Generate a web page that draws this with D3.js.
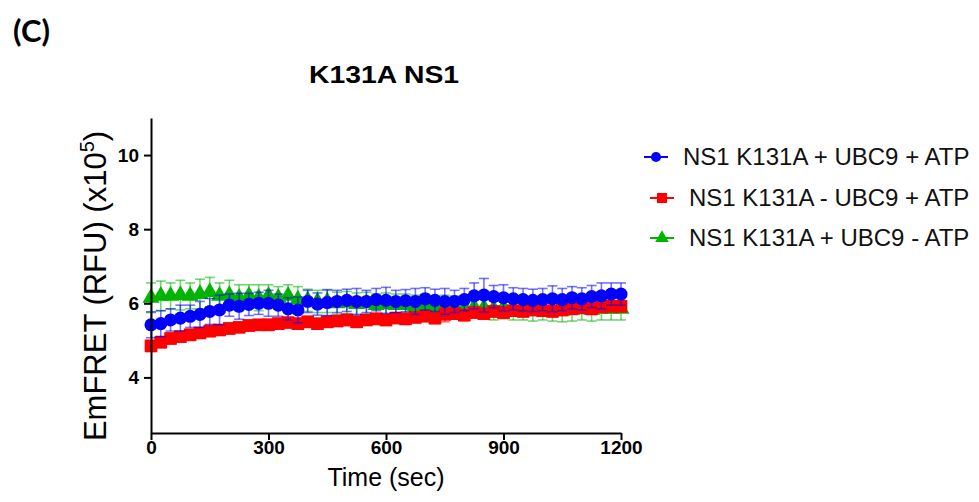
<!DOCTYPE html>
<html><head><meta charset="utf-8">
<script src="https://cdn.jsdelivr.net/npm/d3@7"></script>
<style>html,body{margin:0;padding:0;background:#fff;}</style>
</head><body>
<svg id="c" width="979" height="502"></svg>
<script>
const times = [0,25,50,75,100,125,150,175,200,225,250,275,300,325,350,375,400,425,450,475,500,525,550,575,600,625,650,675,700,725,750,775,800,825,850,875,900,925,950,975,1000,1025,1050,1075,1100,1125,1150,1175,1200];
const blueMean = [5.42,5.45,5.55,5.6,5.65,5.7,5.78,5.82,5.95,5.92,5.97,6.0,6.0,5.95,5.85,5.82,6.05,5.98,6.02,6.05,6.08,6.05,6.05,6.1,6.08,6.05,6.07,6.05,6.12,6.08,6.05,6.05,6.1,6.2,6.22,6.18,6.15,6.12,6.1,6.08,6.1,6.12,6.1,6.15,6.12,6.18,6.2,6.25,6.25];
const blueErr = [0.35,0.35,0.3,0.35,0.3,0.35,0.35,0.4,0.3,0.35,0.3,0.3,0.35,0.3,0.3,0.35,0.3,0.3,0.35,0.3,0.3,0.35,0.3,0.3,0.35,0.3,0.3,0.35,0.3,0.3,0.35,0.3,0.3,0.35,0.45,0.3,0.35,0.3,0.3,0.3,0.3,0.35,0.3,0.3,0.3,0.3,0.35,0.3,0.3];
const redMean = [4.85,4.95,5.05,5.1,5.15,5.2,5.25,5.28,5.32,5.35,5.4,5.42,5.42,5.45,5.48,5.45,5.5,5.45,5.5,5.52,5.55,5.5,5.55,5.58,5.55,5.6,5.58,5.62,5.65,5.6,5.7,5.72,5.68,5.75,5.72,5.78,5.75,5.8,5.78,5.82,5.8,5.78,5.82,5.85,5.88,5.85,5.9,5.92,5.92];
const redErr = [0.15,0.15,0.15,0.12,0.15,0.12,0.15,0.12,0.15,0.12,0.15,0.12,0.15,0.15,0.12,0.15,0.15,0.12,0.15,0.12,0.15,0.15,0.12,0.15,0.15,0.12,0.15,0.15,0.12,0.15,0.2,0.12,0.15,0.15,0.12,0.15,0.15,0.12,0.15,0.15,0.12,0.15,0.15,0.12,0.15,0.15,0.12,0.15,0.15];
const greenMean = [6.15,6.2,6.2,6.22,6.2,6.25,6.3,6.2,6.22,6.15,6.2,6.15,6.2,6.15,6.2,6.1,6.08,6.05,6.05,6.0,6.02,5.98,6.0,5.95,5.98,5.95,5.95,5.92,5.95,5.9,5.92,5.9,5.88,5.9,5.88,5.85,5.88,5.85,5.85,5.82,5.85,5.82,5.8,5.82,5.85,5.82,5.85,5.85,5.85];
const greenErr = [0.4,0.4,0.35,0.4,0.35,0.4,0.4,0.35,0.4,0.35,0.3,0.35,0.3,0.3,0.3,0.35,0.3,0.3,0.3,0.3,0.3,0.3,0.3,0.3,0.3,0.3,0.3,0.3,0.3,0.3,0.3,0.3,0.3,0.3,0.3,0.3,0.3,0.3,0.3,0.3,0.3,0.3,0.3,0.3,0.3,0.3,0.3,0.3,0.3];
const seriesNames = ["NS1 K131A + UBC9 + ATP","NS1 K131A - UBC9 + ATP","NS1 K131A + UBC9 - ATP"];
const seriesColors = ["#0000ff","#ff0000","#00b400"];
const xTicks = [0,300,600,900,1200];
const yTicks = [4,6,8,10];

const FONT = "'Liberation Sans', Arial, sans-serif";
const svg = d3.select("#c");
const x = d3.scaleLinear().domain([0,1200]).range([151,621]);
const y = d3.scaleLinear().domain([2.5,11]).range([433,118]);

const series = [
  {name:seriesNames[0], color:seriesColors[0], mean:blueMean, err:blueErr, shape:d3.symbolCircle, size:135},
  {name:seriesNames[1], color:seriesColors[1], mean:redMean, err:redErr, shape:d3.symbolSquare, size:160},
  {name:seriesNames[2], color:seriesColors[2], mean:greenMean, err:greenErr, shape:d3.symbolTriangle, size:125}
];

const drawOrder = [2,1,0];
drawOrder.forEach(i => {
  const s = series[i];
  const g = svg.append("g");
  const pts = times.map((t,j)=>({t, m:s.mean[j], e:s.err[j]}));
  const eb = g.append("g").attr("stroke", s.color).attr("stroke-opacity",0.55).attr("stroke-width",1.6).attr("fill","none");
  pts.forEach(p=>{
    eb.append("line").attr("x1",x(p.t)).attr("x2",x(p.t)).attr("y1",y(p.m-p.e)).attr("y2",y(p.m+p.e));
    eb.append("line").attr("x1",x(p.t)-5).attr("x2",x(p.t)+5).attr("y1",y(p.m+p.e)).attr("y2",y(p.m+p.e));
    eb.append("line").attr("x1",x(p.t)-5).attr("x2",x(p.t)+5).attr("y1",y(p.m-p.e)).attr("y2",y(p.m-p.e));
  });
  g.append("path").datum(pts).attr("fill","none").attr("stroke",s.color).attr("stroke-width",2)
    .attr("d", d3.line().x(p=>x(p.t)).y(p=>y(p.m)));
  g.selectAll(".m").data(pts).join("path")
    .attr("transform",p=>`translate(${x(p.t)},${y(p.m)})`)
    .attr("d", d3.symbol().type(s.shape).size(s.size))
    .attr("fill", s.color);
});

// axes
const xAxis = svg.append("g").attr("transform","translate(0,433)")
  .call(d3.axisBottom(x).tickValues(xTicks).tickSize(7).tickSizeOuter(0).tickFormat(d3.format("d")));
const yAxis = svg.append("g").attr("transform","translate(151,0)")
  .call(d3.axisLeft(y).tickValues(yTicks).tickSize(7).tickSizeOuter(0));
[xAxis,yAxis].forEach(a=>{
  a.select(".domain").attr("stroke","#000").attr("stroke-width",2);
  a.selectAll(".tick line").attr("stroke","#000").attr("stroke-width",2);
  a.selectAll(".tick text").attr("fill","#000").style("font-family",FONT)
    .style("font-size","19px").style("font-weight","bold");
});
xAxis.selectAll(".tick text").attr("y",8).attr("dy","0.71em");
yAxis.selectAll(".tick text").attr("dx","-2");

// titles
svg.append("text").attr("x",13).attr("y",42).text("(C)")
  .style("font-family","Lato, 'Open Sans', sans-serif").style("font-weight","bold").style("font-size","31px");
svg.append("text").attr("x",384).attr("y",83).attr("text-anchor","middle").text("K131A NS1")
  .attr("textLength",150).attr("lengthAdjust","spacingAndGlyphs")
  .style("font-family",FONT).style("font-weight","bold").style("font-size","24px");
svg.append("text").attr("x",386).attr("y",486).attr("text-anchor","middle").text("Time (sec)")
  .style("font-family",FONT).style("font-size","25px");
const yl = svg.append("text").attr("transform","translate(106,286) rotate(-90)").attr("text-anchor","middle")
  .style("font-family",FONT).style("font-size","31px");
yl.append("tspan").text("EmFRET (RFU) (x10");
yl.append("tspan").attr("dy","-12").style("font-size","20px").text("5");
yl.append("tspan").attr("dy","12").text(")");

// legend
const legY = [157,198,238];
const legX0 = [644,650,650];
series.forEach((s,i)=>{
  const g = svg.append("g");
  g.append("line").attr("x1",legX0[i]).attr("x2",legX0[i]+24).attr("y1",legY[i]).attr("y2",legY[i])
    .attr("stroke",s.color).attr("stroke-width",2);
  g.append("path").attr("transform",`translate(${legX0[i]+12},${legY[i]})`)
    .attr("d", d3.symbol().type(s.shape).size(i===0?80:(i===1?100:80))).attr("fill",s.color);
  g.append("text").attr("x",legX0[i]+39).attr("y",legY[i]+8).text(s.name)
    .style("font-family",FONT).style("font-size","24px").attr("fill","#111");
});
</script>
</body></html>
